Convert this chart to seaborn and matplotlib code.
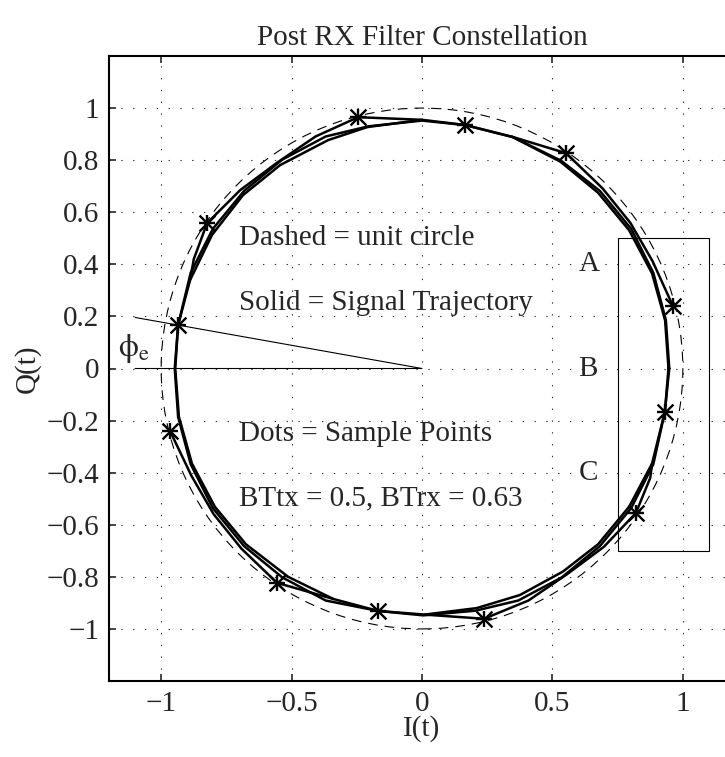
import matplotlib
matplotlib.use("Agg")
import matplotlib.pyplot as plt
import matplotlib.patches as mpatches
import numpy as np
import pandas as pd
import seaborn as sns

# ---------------- data ----------------
# sample points (stars)
samp_i = [0.962, 0.552, 0.165, -0.245, -0.824, -0.935, -0.966, -0.556, -0.168, 0.238, 0.820, 0.931]
samp_q = [0.240, 0.827, 0.935, 0.965, 0.558, 0.167, -0.240, -0.823, -0.931, -0.961, -0.555, -0.167]

# signal trajectory: main inner pass
inner_i = [0.945, 0.932, 0.882, 0.794, 0.675, 0.531, 0.345, 0.165, 0.000, -0.210, -0.360, -0.544,
           -0.686, -0.805, -0.889, -0.935, -0.946, -0.932, -0.882, -0.794, -0.675, -0.513, -0.340,
           -0.168, 0.010, 0.210, 0.375, 0.540, 0.675, 0.794, 0.882, 0.931, 0.945]
inner_q = [0.000, 0.185, 0.365, 0.531, 0.675, 0.794, 0.890, 0.935, 0.955, 0.927, 0.877, 0.781,
           0.666, 0.513, 0.340, 0.167, 0.000, -0.185, -0.365, -0.531, -0.675, -0.800, -0.885,
           -0.931, -0.945, -0.920, -0.870, -0.780, -0.675, -0.531, -0.365, -0.167, 0.000]

# second pass
inner2_i = [0.948, 0.935, 0.887, 0.802, 0.682, 0.533, 0.350, 0.165, 0.000, -0.205, -0.369, -0.536,
            -0.682, -0.802, -0.887, -0.935, -0.948, -0.935, -0.887, -0.802, -0.682, -0.536, -0.369,
            -0.168, 0.005, 0.205, 0.369, 0.536, 0.682, 0.802, 0.887, 0.931, 0.948]
inner2_q = [0.000, 0.186, 0.367, 0.536, 0.682, 0.798, 0.888, 0.935, 0.952, 0.930, 0.891, 0.802,
            0.682, 0.536, 0.367, 0.167, 0.000, -0.186, -0.367, -0.536, -0.682, -0.802, -0.891,
            -0.931, -0.948, -0.930, -0.891, -0.802, -0.682, -0.536, -0.367, -0.167, 0.000]

# outer excursions through the outer sample points
arc_ne_i = [0.345, 0.552, 0.692, 0.799, 0.884, 0.962]
arc_ne_q = [0.890, 0.827, 0.692, 0.559, 0.412, 0.240]
arc_nw_i = [0.000, -0.245, -0.408, -0.556, -0.697, -0.824, -0.875, -0.889]
arc_nw_q = [0.955, 0.965, 0.891, 0.790, 0.685, 0.558, 0.420, 0.340]
arc_sw_i = [-0.340, -0.556, -0.692, -0.799, -0.884, -0.966]
arc_sw_q = [-0.885, -0.823, -0.692, -0.559, -0.412, -0.240]
arc_se_i = [0.010, 0.238, 0.408, 0.556, 0.697, 0.820, 0.875, 0.882]
arc_se_q = [-0.945, -0.961, -0.891, -0.790, -0.685, -0.555, -0.420, -0.365]

# phase-error lines
phi_i = [-1.1, 0.0, -1.1]
phi_q = [0.0, 0.0, 0.196]

xtick_vals = [-1, -0.5, 0, 0.5, 1]
xtick_labels = ["\u22121", "\u22120.5", "0", "0.5", "1"]
ytick_vals = [-1, -0.8, -0.6, -0.4, -0.2, 0, 0.2, 0.4, 0.6, 0.8, 1]
ytick_labels = ["\u22121", "\u22120.8", "\u22120.6", "\u22120.4", "\u22120.2", "0",
                "0.2", "0.4", "0.6", "0.8", "1"]

notes = ["Dashed = unit circle", "Solid = Signal Trajectory",
         "Dots = Sample Points", "BTtx = 0.5, BTrx = 0.63"]
notes_y = [0.5, 0.25, -0.25, -0.5]
regions = ["A", "B", "C"]
regions_y = [0.4, 0.0, -0.4]

FS = 21

# ---------------- style ----------------
sns.set_style("ticks")
plt.rcParams["font.family"] = ["Liberation Serif", "DejaVu Serif"]
plt.rcParams["mathtext.fontset"] = "stix"
plt.rcParams["lines.scale_dashes"] = False
plt.rcParams["font.size"] = FS

fig = plt.figure(figsize=(7.25, 7.57), dpi=100)
ax = fig.add_axes([109 / 725, 76 / 757, 626 / 725, 625 / 757])

# trajectory
segs = []
for k, (xi, yq) in enumerate([(inner_i, inner_q), (inner2_i, inner2_q),
                               (arc_ne_i, arc_ne_q), (arc_nw_i, arc_nw_q),
                               (arc_sw_i, arc_sw_q), (arc_se_i, arc_se_q)]):
    segs.append(pd.DataFrame({"I": xi, "Q": yq, "seg": k, "order": range(len(xi))}))
traj = pd.concat(segs, ignore_index=True)
sns.lineplot(data=traj, x="I", y="Q", units="seg", estimator=None, sort=False,
             color="black", lw=1.8, ax=ax, legend=False, zorder=3)

# unit circle (dashed)
ax.add_patch(mpatches.Circle((0, 0), 1.0, fill=False, ec="black", lw=0.8,
                             ls=(0, (7, 5)), zorder=2))

# sample points
samp = pd.DataFrame({"I": samp_i, "Q": samp_q})
for mk in ["+", "x"]:
    sns.scatterplot(data=samp, x="I", y="Q", marker=mk, s=130, color="black",
                    linewidth=1.7, ax=ax, legend=False, zorder=4)

# phase error lines
ax.plot(phi_i, phi_q, color="black", lw=0.8, zorder=3)
ax.text(-1.165, 0.075, r"$\mathrm{\phi}_{\mathrm{e}}$", fontsize=23, ha="left", va="center")

# rectangle
ax.add_patch(mpatches.Rectangle((0.75, -0.7), 0.35, 1.2, fill=False, ec="black", lw=0.8, zorder=3))

for t, yv in zip(notes, notes_y):
    ax.text(-0.7, yv, t, ha="left", va="center", fontsize=FS)
for t, yv in zip(regions, regions_y):
    ax.text(0.6, yv, t, ha="left", va="center", fontsize=FS)

ax.set_xlim(-1.2, 1.2)
ax.set_ylim(-1.2, 1.2)
ax.set_xticks(xtick_vals)
ax.set_xticklabels(xtick_labels)
ax.set_yticks(ytick_vals)
ax.set_yticklabels(ytick_labels)
ax.tick_params(direction="in", length=5, width=1.2, labelsize=FS, top=True, right=True, pad=7)
ax.grid(True, color="#333333", ls=(0, (1, 7.5)), lw=0.8)
for sp in ax.spines.values():
    sp.set_linewidth(1.5)
    sp.set_color("black")

ax.set_xlabel("I(t)", fontsize=FS, labelpad=-1)
ax.set_ylabel("Q(t)", fontsize=FS, labelpad=4)
ax.set_title("Post RX Filter Constellation", fontsize=FS, pad=8)

fig.savefig("out.png", dpi=100)
